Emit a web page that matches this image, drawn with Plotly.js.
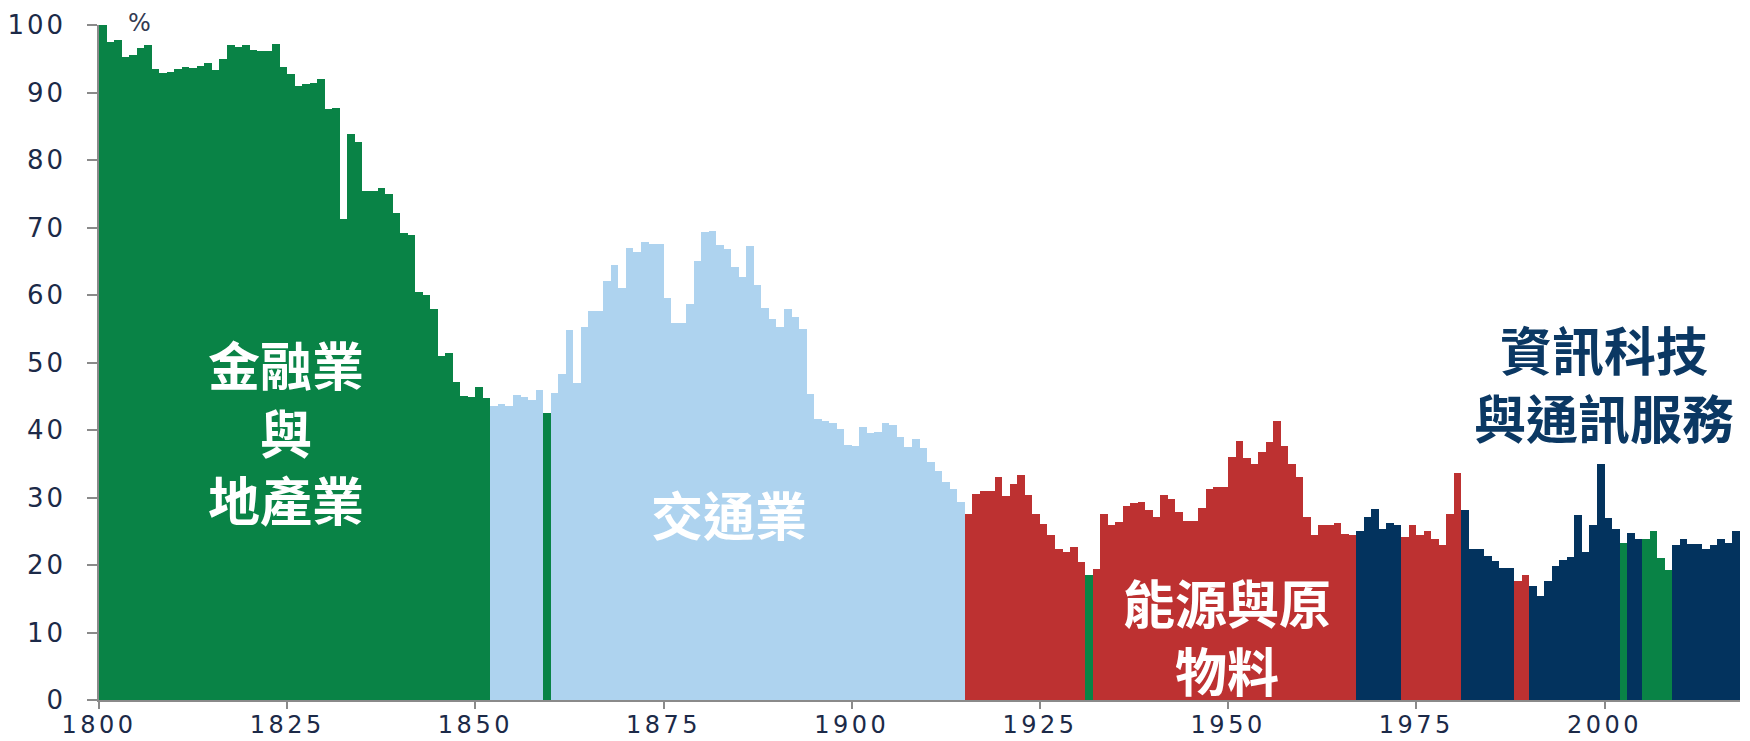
<!DOCTYPE html>
<html>
<head>
<meta charset="utf-8">
<script src="https://cdn.plot.ly/plotly-3.0.1.min.js"></script>
<style>
  html, body { margin: 0; padding: 0; background: #ffffff; }
  #chart { width: 1750px; height: 741px; }
  .xtick text { letter-spacing: 3.5px; }
  .ytick text { letter-spacing: 3px; }
</style>
</head>
<body>
<div id="chart"></div>
<script>
// Share of the largest sector in the US stock market, by year (%)
const startYear = 1800;
const share = [
  100, 97.5, 97.8, 95.2, 95.6, 96.6, 97.1, 93.5, 92.9, 93.1,   // 1800-1809
  93.5, 93.8, 93.6, 94.0, 94.3, 93.4, 94.9, 97.1, 96.8, 97.0,  // 1810-1819
  96.3, 96.2, 96.1, 97.2, 93.8, 92.7, 91.0, 91.3, 91.4, 92.0,  // 1820-1829
  87.6, 87.7, 71.3, 83.9, 82.7, 75.4, 75.4, 75.8, 74.9, 72.2,  // 1830-1839
  69.2, 68.9, 60.4, 60.0, 58.0, 50.9, 51.4, 47.1, 45.1, 44.9,  // 1840-1849
  46.4, 44.7, 43.5, 43.9, 43.5, 45.2, 44.9, 44.5, 45.9, 42.5,  // 1850-1859
  45.5, 48.3, 54.8, 47.0, 55.2, 57.6, 57.6, 62.1, 64.4, 61.0,  // 1860-1869
  67.0, 66.3, 67.8, 67.5, 67.5, 59.6, 55.9, 55.9, 58.6, 65.1,  // 1870-1879
  69.3, 69.5, 67.4, 66.8, 64.2, 62.7, 67.3, 61.5, 58.1, 56.4,  // 1880-1889
  55.2, 57.9, 56.7, 54.9, 45.4, 41.7, 41.3, 41.1, 40.2, 37.8,  // 1890-1899
  37.6, 40.4, 39.6, 39.7, 41.0, 40.7, 38.9, 37.5, 38.6, 37.4,  // 1900-1909
  35.3, 33.9, 32.3, 31.2, 29.3, 27.6, 30.5, 30.9, 30.9, 33.0,  // 1910-1919
  30.2, 32.0, 33.3, 30.4, 27.6, 26.1, 24.5, 22.3, 22.0, 22.7,  // 1920-1929
  20.5, 18.5, 19.4, 27.6, 26.0, 26.4, 28.7, 29.2, 29.3, 28.1,  // 1930-1939
  27.1, 30.4, 29.8, 27.9, 26.5, 26.5, 28.5, 31.3, 31.6, 31.6,  // 1940-1949
  36.0, 38.3, 35.9, 35.0, 36.7, 38.2, 41.3, 37.7, 35.0, 33.0,  // 1950-1959
  27.1, 24.4, 26.0, 26.0, 26.2, 24.6, 24.4, 25.0, 27.1, 28.3,  // 1960-1969
  25.3, 26.2, 25.9, 24.2, 25.9, 24.4, 25.1, 23.8, 22.9, 27.6,  // 1970-1979
  33.6, 28.1, 22.3, 22.3, 21.3, 20.6, 19.6, 19.6, 17.7, 18.5,  // 1980-1989
  16.9, 15.4, 17.6, 19.8, 20.7, 21.2, 27.4, 22.0, 25.9, 35.0,  // 1990-1999
  27.0, 25.4, 23.3, 24.7, 23.8, 23.8, 25.0, 21.1, 19.2, 22.9,  // 2000-2009
  23.9, 23.1, 23.1, 22.3, 22.9, 23.9, 23.3, 25.1               // 2010-2017
];

// Largest sector in each span of years: [first year, last year, sector key]
const sectorSpans = [
  [1800, 1851, 'fin'], [1852, 1858, 'trans'], [1859, 1859, 'fin'],
  [1860, 1914, 'trans'], [1915, 1930, 'energy'], [1931, 1931, 'fin'],
  [1932, 1966, 'energy'], [1967, 1972, 'tech'], [1973, 1980, 'energy'],
  [1981, 1987, 'tech'], [1988, 1989, 'energy'], [1990, 2001, 'tech'],
  [2002, 2002, 'fin'], [2003, 2004, 'tech'], [2005, 2008, 'fin'],
  [2009, 2017, 'tech']
];

const sectorKeys = ['fin', 'trans', 'energy', 'tech'];
const sectorNames = ['金融業與地產業', '交通業', '能源與原物料', '資訊科技與通訊服務'];
const sectorColors = ['#098346', '#aed3ef', '#bd3131', '#03335e'];

const xTickVals = [1800, 1825, 1850, 1875, 1900, 1925, 1950, 1975, 2000];

// Text labels: [text, x (year), y (%), colour]
const labelTexts = ['金融業<br>與<br>地產業', '交通業', '能源與原<br>物料', '資訊科技<br>與通訊服務'];
const labelX = [1824.8, 1883.7, 1949.8, 1999.9];
const labelY = [39.9, 27.7, 9.6, 47.0];
const labelColors = ['#ffffff', '#ffffff', '#ffffff', '#0b3863'];

// ---- build traces ----
function sectorOf(year) {
  for (const s of sectorSpans) if (year >= s[0] && year <= s[1]) return s[2];
  return null;
}
const traces = sectorKeys.map((key, i) => {
  const xs = [], ys = [];
  share.forEach((v, k) => {
    const yr = startYear + k;
    if (sectorOf(yr) === key) { xs.push(yr); ys.push(v); }
  });
  return {
    type: 'bar', name: sectorNames[i], x: xs, y: ys,
    width: 1, offset: 0,
    marker: { color: sectorColors[i], line: { width: 0 } },
    showlegend: false, hoverinfo: 'x+y'
  };
});

const annotations = labelTexts.map((t, i) => ({
  text: t, x: labelX[i], y: labelY[i], xref: 'x', yref: 'y',
  showarrow: false, xanchor: 'center', yanchor: 'middle', align: 'center',
  font: { family: '"Noto Sans CJK TC", "Noto Sans CJK SC", sans-serif', size: 52, color: labelColors[i], weight: 700 }
}));
annotations.push({
  text: '%', xref: 'paper', yref: 'paper', x: 0.0247, y: 1.0,
  xanchor: 'center', yanchor: 'middle', showarrow: false, yshift: 2,
  font: { family: 'DejaVu Sans, sans-serif', size: 24, color: '#333a52' }
});

const xTickFont = { family: 'DejaVu Sans, sans-serif', size: 24, color: '#1c2a48' };
const yTickFont = { family: 'DejaVu Sans, sans-serif', size: 26, color: '#1c2a48' };

const layout = {
  width: 1750, height: 741,
  margin: { l: 99, r: 10, t: 25, b: 41, pad: 0 },
  paper_bgcolor: '#ffffff', plot_bgcolor: '#ffffff',
  barmode: 'overlay', bargap: 0,
  xaxis: {
    range: [1800, 2018], tickvals: xTickVals, ticks: 'outside', ticklen: 7,
    tickcolor: '#8a8a8a', tickwidth: 1.5, showline: true, linecolor: '#8a8a8a', linewidth: 1.5,
    showgrid: false, zeroline: false, tickfont: xTickFont, fixedrange: true,
    ticklabelstandoff: -5
  },
  yaxis: {
    range: [0, 100], dtick: 10, tick0: 0, ticks: 'outside', ticklen: 10,
    tickcolor: '#8a8a8a', tickwidth: 1.5, showline: true, linecolor: '#8a8a8a', linewidth: 1.5,
    showgrid: false, zeroline: false, tickfont: yTickFont, fixedrange: true,
    ticklabelstandoff: 16
  },
  annotations: annotations,
  font: { family: 'DejaVu Sans, sans-serif' }
};

Plotly.newPlot('chart', traces, layout, { displayModeBar: false });
</script>
</body>
</html>
